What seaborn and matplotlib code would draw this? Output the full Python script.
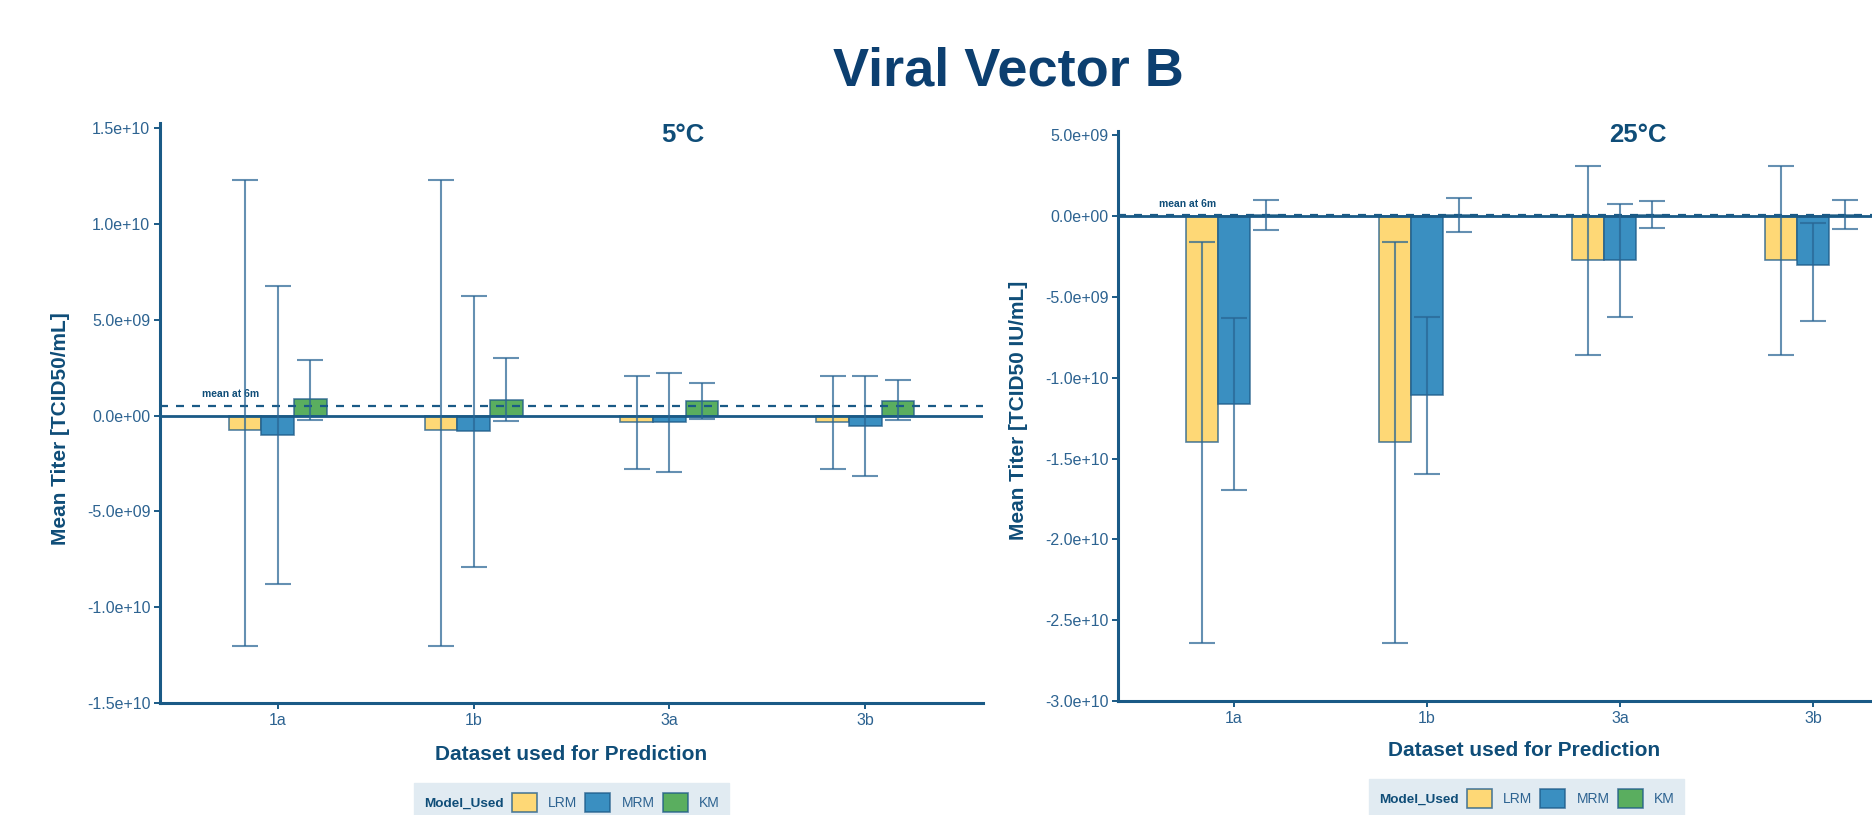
import matplotlib
matplotlib.use("Agg")
import matplotlib.pyplot as plt
from matplotlib.patches import Patch
import numpy as np
import pandas as pd
import seaborn as sns

# ---- data -------------------------------------------------------------
DATASETS = ["1a", "1b", "3a", "3b"]
MODELS = ["LRM", "MRM", "KM"]

# 5°C: mean titer difference per model and lower/upper interval limits
c5_LRM_mean = [-7.3e8, -7.3e8, -3.3e8, -3.3e8]
c5_LRM_lo = [-1.20e10, -1.20e10, -2.78e9, -2.78e9]
c5_LRM_hi = [1.229e10, 1.229e10, 2.05e9, 2.05e9]
c5_MRM_mean = [-1.0e9, -8.2e8, -3.3e8, -5.6e8]
c5_MRM_lo = [-8.8e9, -7.9e9, -2.96e9, -3.17e9]
c5_MRM_hi = [6.76e9, 6.23e9, 2.23e9, 2.05e9]
c5_KM_mean = [8.4e8, 8.0e8, 7.5e8, 7.5e8]
c5_KM_lo = [-2.4e8, -3.0e8, -1.7e8, -2.1e8]
c5_KM_hi = [2.89e9, 3.01e9, 1.69e9, 1.86e9]
c5_mean_6m = 5.2e8

# 25°C
c25_LRM_mean = [-1.40e10, -1.40e10, -2.72e9, -2.72e9]
c25_LRM_lo = [-2.64e10, -2.64e10, -8.56e9, -8.56e9]
c25_LRM_hi = [-1.59e9, -1.59e9, 3.09e9, 3.09e9]
c25_MRM_mean = [-1.16e10, -1.108e10, -2.72e9, -3.03e9]
c25_MRM_lo = [-1.695e10, -1.595e10, -6.23e9, -6.48e9]
c25_MRM_hi = [-6.29e9, -6.23e9, 7.4e8, -4.5e8]
c25_KM_mean = [6e7, 7e7, 8e7, 8e7]
c25_KM_lo = [-8.7e8, -9.5e8, -7.6e8, -8.2e8]
c25_KM_hi = [9.9e8, 1.1e9, 9.3e8, 9.9e8]
c25_mean_6m = 6e7


def build_frame(means, los, his):
    rows = []
    for model, m, lo, hi in zip(MODELS, means, los, his):
        for d, mv, lv, hv in zip(DATASETS, m, lo, hi):
            rows.append({"Dataset": d, "Model_Used": model,
                         "Mean": mv, "Lower": lv, "Upper": hv})
    return pd.DataFrame(rows)


df5 = build_frame([c5_LRM_mean, c5_MRM_mean, c5_KM_mean],
                  [c5_LRM_lo, c5_MRM_lo, c5_KM_lo],
                  [c5_LRM_hi, c5_MRM_hi, c5_KM_hi])
df25 = build_frame([c25_LRM_mean, c25_MRM_mean, c25_KM_mean],
                   [c25_LRM_lo, c25_MRM_lo, c25_KM_lo],
                   [c25_LRM_hi, c25_MRM_hi, c25_KM_hi])

# ---- style ------------------------------------------------------------
PALETTE = {"LRM": "#FED876", "MRM": "#3A8FC1", "KM": "#5AAE5F"}
EDGE = (0.11, 0.35, 0.53, 0.75)
ERR = (0.16, 0.40, 0.58, 0.72)
DARK = "#1A5A86"
TITLE_C = "#0C3F70"
LABEL_C = "#0F4D78"
TICK_C = "#2D6391"
LEGEND_BG = "#E1EBF2"

sns.set_theme(style="white")
plt.rcParams["font.family"] = ["Liberation Sans", "DejaVu Sans"]

W, H = 1872, 815
fig = plt.figure(figsize=(W / 100, H / 100), dpi=100)


def px_rect(left, top, right, bottom):
    return [left / W, 1 - bottom / H, (right - left) / W, (bottom - top) / H]


BAR_GROUP_WIDTH = 0.5


def draw_panel(ax, df, mean_6m, ylim, yticks):
    sns.barplot(data=df, x="Dataset", y="Mean", hue="Model_Used",
                order=DATASETS, hue_order=MODELS, palette=PALETTE,
                width=BAR_GROUP_WIDTH, saturation=1, errorbar=None,
                edgecolor=EDGE, linewidth=1.2, legend=False, ax=ax, zorder=2)
    n = len(MODELS)
    step = BAR_GROUP_WIDTH / n
    for j, model in enumerate(MODELS):
        sub = df[df["Model_Used"] == model].set_index("Dataset").loc[DATASETS]
        xs = np.arange(len(DATASETS)) + (j - (n - 1) / 2) * step
        centre = (sub["Upper"].values + sub["Lower"].values) / 2
        half = (sub["Upper"].values - sub["Lower"].values) / 2
        ax.errorbar(xs, centre, yerr=half, fmt="none", ecolor=ERR,
                    elinewidth=1.5, capsize=9.4, capthick=1.5, zorder=4)

    ax.axhline(0, color=DARK, lw=2.0, zorder=3)
    ax.axhline(mean_6m, color=DARK, lw=1.6, ls=(0, (3.6, 3.6)), zorder=3)
    ax.annotate("mean at 6m", xy=(-0.24, mean_6m), xytext=(0, 4.5),
                textcoords="offset points", ha="center", va="bottom",
                fontsize=7.5, fontweight="bold", color=LABEL_C)

    ax.set_xlim(-0.6, 3.6)
    ax.set_ylim(*ylim)
    ax.set_yticks(yticks)
    ax.set_yticklabels(["{:.1e}".format(v) for v in yticks])
    ax.set_xlabel("")
    ax.set_ylabel("")
    for side in ("top", "right"):
        ax.spines[side].set_visible(False)
    for side in ("left", "bottom"):
        ax.spines[side].set_color(DARK)
        ax.spines[side].set_linewidth(2.2)
    ax.tick_params(axis="both", which="both", direction="out", length=4,
                   width=1.4, color=DARK, labelcolor=TICK_C, labelsize=11.5,
                   pad=3, left=True, bottom=True)
    ax.grid(False)
    ax.set_facecolor("white")


def add_legend(ax, left_px, top_px):
    handles = [Patch(facecolor=PALETTE[m], edgecolor=EDGE, linewidth=1.2)
               for m in MODELS]
    leg = ax.legend(handles, MODELS, title="Model_Used", ncol=3,
                    loc="upper left", bbox_to_anchor=(left_px / W, 1 - top_px / H),
                    bbox_transform=fig.transFigure, frameon=True, fancybox=False,
                    facecolor=LEGEND_BG, edgecolor=LEGEND_BG, framealpha=1,
                    fontsize=10, title_fontsize=9.7, handlelength=1.8,
                    handleheight=1.8, handletextpad=0.8, columnspacing=0.6,
                    borderpad=0.7, borderaxespad=0)
    leg.get_title().set_fontweight("bold")
    leg.get_title().set_color(LABEL_C)
    for t in leg.get_texts():
        t.set_color(TICK_C)
    # put the legend title on the same row as the keys
    box = leg._legend_box
    title_box, handle_box = box.get_children()
    box._children = [handle_box]
    handle_box._children.insert(0, title_box)
    return leg


# left panel: 5°C
ax1 = fig.add_axes(px_rect(160, 123, 983, 703))
draw_panel(ax1, df5, c5_mean_6m, (-1.5e10, 1.527e10),
           [-1.5e10, -1.0e10, -5.0e9, 0.0, 5.0e9, 1.0e10, 1.5e10])
add_legend(ax1, 414, 783)

# right panel: 25°C
ax2 = fig.add_axes(px_rect(1118, 131, 1929, 701))
draw_panel(ax2, df25, c25_mean_6m, (-3.0e10, 5.27e9),
           [-3.0e10, -2.5e10, -2.0e10, -1.5e10, -1.0e10, -5.0e9, 0.0, 5.0e9])
add_legend(ax2, 1369, 779)

# titles and axis labels
fig.text(1008 / W, 1 - 86 / H, "Viral Vector B", ha="center", va="baseline",
         fontsize=39, fontweight="bold", color=TITLE_C,
         family=["Liberation Sans Narrow", "Liberation Sans", "DejaVu Sans"])
fig.text(683 / W, 1 - 142 / H, "5°C", ha="center", va="baseline",
         fontsize=18.5, fontweight="bold", color=LABEL_C)
fig.text(1638 / W, 1 - 142 / H, "25°C", ha="center", va="baseline",
         fontsize=18.5, fontweight="bold", color=LABEL_C)

fig.text(571 / W, 1 - 760 / H, "Dataset used for Prediction", ha="center",
         va="baseline", fontsize=15, fontweight="bold", color=LABEL_C)
fig.text(1524 / W, 1 - 756.5 / H, "Dataset used for Prediction", ha="center",
         va="baseline", fontsize=15, fontweight="bold", color=LABEL_C)

fig.text(61 / W, 1 - 429 / H, "Mean Titer [TCID50/mL]", rotation=90,
         ha="center", va="center", fontsize=15, fontweight="bold", color=LABEL_C)
fig.text(1019 / W, 1 - 410 / H, "Mean Titer [TCID50 IU/mL]", rotation=90,
         ha="center", va="center", fontsize=15, fontweight="bold", color=LABEL_C)

fig.savefig("out.png", dpi=100, facecolor="white")
